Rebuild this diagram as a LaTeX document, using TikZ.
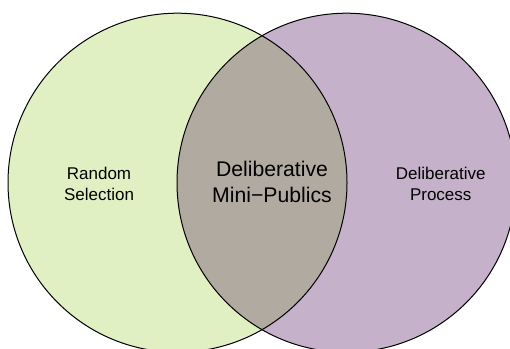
\documentclass[tikz,border=0pt]{standalone}
\usepackage{fontspec}
\setmainfont{Liberation Sans}
\definecolor{lgreen}{HTML}{E1F0C3}
\definecolor{lpurple}{HTML}{C6B1CA}
\definecolor{overlapc}{HTML}{B1AAA1}
\tikzset{
  sidelabel/.style={align=center, font=\fontsize{17}{21.7}\selectfont, inner sep=0pt},
  midlabel/.style={align=center, font=\fontsize{21.2}{26.7}\selectfont, inner sep=0pt},
  ring/.style={draw=black, line width=1pt}
}
\begin{document}
\begin{tikzpicture}[x=1pt,y=-1pt]
\useasboundingbox (0,0) rectangle (510,348);
\clip (0,0) rectangle (510,348);
\fill[white] (0,0) rectangle (510,348);
\coordinate (cl) at (177.5,182.7);
\coordinate (cr) at (346.5,182.7);
\fill[lgreen] (cl) circle (169.5pt);
\fill[lpurple] (cr) circle (169.5pt);
\begin{scope}
  \clip (cl) circle (169.5pt);
  \fill[overlapc] (cr) circle (169.5pt);
\end{scope}
\draw[ring] (cl) circle (169.5pt);
\draw[ring] (cr) circle (169.5pt);
\node[sidelabel] (rs) at (99,184) {Random\\Selection};
\node[midlabel] (dmp) at (272,182) {Deliberative\\Mini−Publics};
\node[sidelabel] (dp) at (440.7,184) {Deliberative\\Process};
\end{tikzpicture}
\end{document}
